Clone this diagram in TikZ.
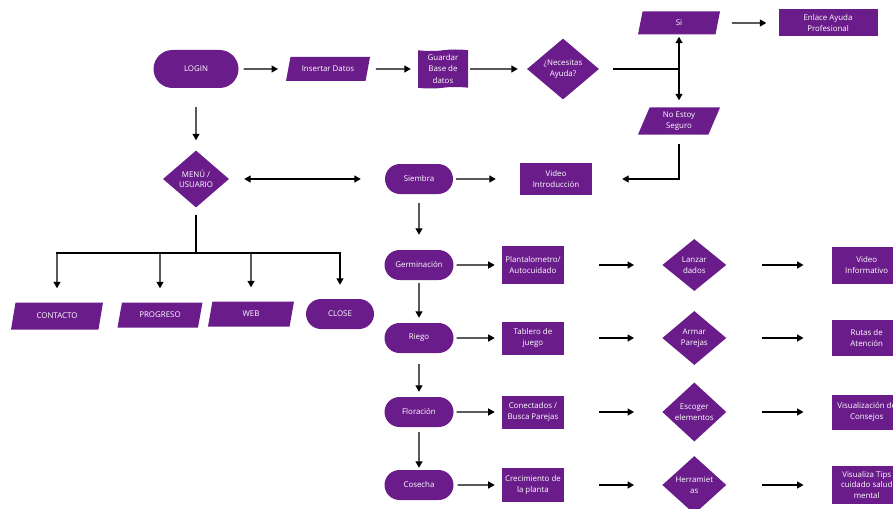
\documentclass[tikz,border=0pt]{standalone}
\usepackage{fontspec}
\setmainfont{Open Sans}
\usetikzlibrary{arrows.meta, positioning, shapes.geometric, shapes.misc, shapes.symbols}
\definecolor{morado}{RGB}{106,29,138}
\tikzset{%
   blk/.style={
      fill=morado,
      text=white,
      font=\fontsize{7.9}{10.5}\selectfont,
      align=center,
      inner sep=1pt
   },
   pill/.style={
      blk, rounded rectangle,
      minimum width=71pt, minimum height=30pt
   },
   caja/.style={
      blk, rectangle,
      minimum width=62pt, minimum height=35pt
   },
   para/.style={
      blk, trapezium,
      trapezium left angle=60, trapezium right angle=120,
      trapezium stretches body,
      minimum width=84pt, minimum height=25pt
   },
   rombo/.style={
      blk, diamond,
      minimum width=64pt, minimum height=54pt
   },
   cinta/.style={
      blk, tape, tape bend height=1.5pt,
      minimum width=50pt, minimum height=39pt
   },
   go/.style={
      ->, line width=1.3pt,
      shorten <=3pt, shorten >=7pt
   },
   far/.style={
      go, shorten <=35pt, shorten >=28pt
   },
   >={Triangle[length=6.5pt, width=7pt]}
}

\begin{document}
\begin{tikzpicture}[x=1pt, y=-1pt]
   \useasboundingbox (0,0) rectangle (893,508);
   \clip (0,0) rectangle (893,508);
   % inicio
   \node[pill, minimum width=87pt, minimum height=38pt] (login) at (196,69) {LOGIN};
   \node[para, minimum height=24pt] (ins) at (328,69) {Insertar Datos};
   \node[cinta, font=\fontsize{7.9}{11.5}\selectfont, inner sep=0pt] (gbd) at (443,69) {Guardar\\Base de\\datos};
   \node[rombo, minimum width=72pt, minimum height=58pt] (nec) at (563,69) {¿Necesitas\\Ayuda?};
   \node[para, minimum width=82pt, minimum height=23pt] (si) at (679,23) {Si};
   \node[caja, minimum width=99pt, minimum height=27pt] (enl) at (828,23) {Enlace Ayuda\\Profesional};
   \node[para, minimum width=82pt, minimum height=27pt] (nes) at (679,121) {No Estoy\\Seguro};
   \path (login) edge[go, shorten <=5pt, shorten >=10pt] (ins);
   \path (ins) edge[go, shorten <=8pt] (gbd);
   \path (gbd) edge[go, shorten <=2pt, shorten >=9pt] (nec);
   \coordinate (split) at (si |- nec.east);
   \draw[line width=1.3pt, shorten <=14pt] (nec.east) -- (split);
   \path (split) edge[go, shorten <=0pt, shorten >=2pt] (si);
   \path (split) edge[go, shorten <=0pt] (nes);
   \path (si) edge[go, shorten <=14pt, shorten >=12pt] (enl);

   % menu
   \node[rombo, minimum width=66pt, minimum height=57pt] (menu) at (196,179) {MENÚ /\\USUARIO};
   \node[para, minimum width=92pt, minimum height=27pt] (cont) at (57,316) {CONTACTO};
   \node[para, minimum width=85pt] (prog) at (160,315) {PROGRESO};
   \node[para, minimum width=86pt] (web) at (251,314) {WEB};
   \node[pill, minimum width=70pt] (close) at (340,314) {CLOSE};
   \path (login) edge[go, shorten <=19pt, shorten >=10pt] (menu);
   \coordinate (bus) at (196,253);
   \draw[line width=1.3pt, shorten <=7pt] (menu.south) -- (bus);
   \draw[line width=1.3pt, line cap=rect] (bus -| cont) -- (bus -| close);
   \foreach \n in {cont, prog, web, close}
      \draw[go, shorten <=0pt, shorten >=14pt] (bus -| \n) -- (\n.north);

   % siembra
   \node[pill, minimum width=70pt] (sie) at (419,179) {Siembra};
   \node[caja, minimum width=72pt, minimum height=32pt] (vid) at (556,179) {Video\\Introducción};
   \path (menu) edge[go, <->, shorten <=15pt, shorten >=24pt] (sie);
   \path (sie) edge[go, shorten <=3pt, shorten >=24pt] (vid);
   \draw[go, shorten <=9pt, shorten >=30pt] (nes.south) |- (vid.east);

   % filas
   \node[pill] (ger) at (419,265) {Germinación};
   \node[caja, minimum height=38pt, right=48pt of ger] (pla) {Plantalometro/\\Autocuidado};
   \node[rombo, minimum height=52pt, right=98pt of pla] (lan) {Lanzar\\dados};
   \node[caja, minimum width=70pt, minimum height=37pt, right=105pt of lan] (vinf) {Video\\Informativo};

   \node[pill] (rie) at (419,338) {Riego};
   \node[caja, minimum height=33pt, right=48pt of rie] (tab) {Tablero de\\juego};
   \node[rombo, right=98pt of tab] (arm) {Armar\\Parejas};
   \node[caja, minimum width=70pt, minimum height=36pt, right=105pt of arm] (rut) {Rutas de\\Atención};

   \node[pill] (flo) at (419,412) {Floración};
   \node[caja, minimum height=33pt, right=48pt of flo] (con) {Conectados /\\Busca Parejas};
   \node[rombo, right=98pt of con] (esc) {Escoger\\elementos};
   \node[caja, minimum width=70pt, minimum height=35pt, right=105pt of esc] (vis) {Visualización de\\Consejos};

   \node[pill] (cos) at (419,485) {Cosecha};
   \node[caja, minimum height=34pt, right=48pt of cos] (cre) {Crecimiento de\\la planta};
   \node[rombo, right=98pt of cre] (her) {Herramiet\\as};
   \node[caja, minimum width=70pt, minimum height=38pt, right=105pt of her] (tips) {Visualiza Tips\\cuidado salud\\mental};

   \path (sie) edge[go, shorten <=9pt, shorten >=15pt] (ger);
   \path (ger) edge[go, shorten >=5pt] (rie);
   \path (rie) edge[go, shorten <=11pt, shorten >=5pt] (flo);
   \path (flo) edge[go, shorten <=5pt, shorten >=2pt] (cos);

   \path (ger) edge[go] (pla);
   \path (pla) edge[far] (lan);
   \path (lan) edge[far] (vinf);
   \path (rie) edge[go] (tab);
   \path (tab) edge[far] (arm);
   \path (arm) edge[far] (rut);
   \path (flo) edge[go] (con);
   \path (con) edge[far] (esc);
   \path (esc) edge[far] (vis);
   \path (cos) edge[go, shorten <=4pt] (cre);
   \path (cre) edge[far] (her);
   \path (her) edge[far] (tips);
\end{tikzpicture}
\end{document}
